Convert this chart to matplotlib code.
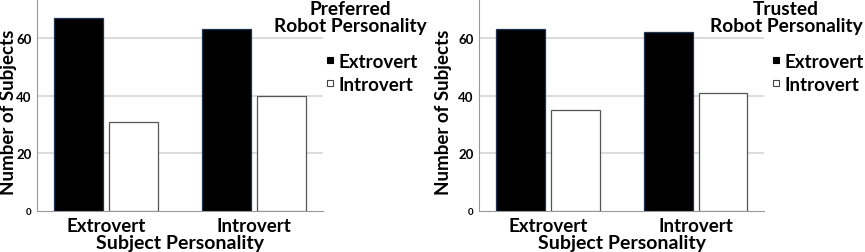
import matplotlib
matplotlib.use("Agg")
import matplotlib.pyplot as plt
from matplotlib.lines import Line2D
import numpy as np

# data
groups = ["Extrovert", "Introvert"]
pref_extro = [67, 63]
pref_intro = [31, 40]
trust_extro = [63, 62]
trust_intro = [35, 41]
titles = ["Preferred\nRobot Personality", "Trusted\nRobot Personality"]

plt.rcParams['font.family'] = ['Lato', 'DejaVu Sans']
plt.rcParams['font.weight'] = 'bold'

fig = plt.figure(figsize=(8.65, 2.53), dpi=100)
W, H = 865.0, 253.0

# (axes left, axes right, extro, intro, title, title centre x, legend left x, ylabel x)
panels = [
    (37, 323, pref_extro, pref_intro, titles[0], 350, 326, 9),
    (479, 764, trust_extro, trust_intro, titles[1], 786, 772, 444),
]

x = np.arange(len(groups))
bw = 0.33
off = 0.185

for left, right, ext, intr, title, tx, lx, ylx in panels:
    ax = fig.add_axes([left / W, 41 / H, (right - left) / W, 212 / H])
    ax.bar(x - off, ext, bw, color="black", edgecolor="#1c3550", linewidth=0.9, zorder=3)
    ax.bar(x + off, intr, bw, color="white", edgecolor="#555555", linewidth=0.9, zorder=3)
    ax.set_xlim(-0.465, 1.462)
    ax.set_ylim(0, 73.5)
    ax.set_yticks([0, 20, 40, 60])
    ax.set_yticklabels(["0", "20", "40", "60"], fontsize=9.5, fontweight="bold")
    ax.get_yticklabels()[0].set_fontsize(7)
    ax.set_xticks(x)
    ax.set_xticklabels(groups, fontsize=13.5, fontweight="bold")
    ax.tick_params(axis="y", length=0, pad=4)
    ax.tick_params(axis="x", length=0, pad=4)
    for yv in [20, 40, 60]:
        ax.axhline(yv, color="#d6d6d6", linewidth=1.2, zorder=1)
    for s in ["top", "right"]:
        ax.spines[s].set_visible(False)
    ax.spines["left"].set_color("#999999")
    ax.spines["bottom"].set_color("#999999")
    ax.set_xlabel("Subject Personality", fontsize=14, fontweight="bold", labelpad=0)
    ax.set_ylabel("Number of Subjects", fontsize=13.5, fontweight="bold")
    ax.yaxis.set_label_coords(ylx / W, 1 - 112 / H, transform=fig.transFigure)
    ax.yaxis.label.set_va("center")

    fig.text(tx / W, 1 - 1 / H, title, ha="center", va="top", fontsize=13.8,
             fontweight="bold", linespacing=1.02, zorder=6)
    handles = [
        Line2D([], [], linestyle="none", marker="s", markersize=5,
               markerfacecolor="black", markeredgecolor="black", markeredgewidth=0.8),
        Line2D([], [], linestyle="none", marker="s", markersize=5,
               markerfacecolor="white", markeredgecolor="#444444", markeredgewidth=0.8),
    ]
    leg = ax.legend(handles, ["Extrovert", "Introvert"], loc="upper left",
                    bbox_to_anchor=(lx / W, 1 - 54 / H),
                    bbox_transform=fig.transFigure, frameon=False, fontsize=13.5,
                    handlelength=0.4, handletextpad=0.25,
                    labelspacing=0.3, borderpad=0.0, borderaxespad=0.0)
    leg.set_zorder(5)

fig.savefig("out.png", dpi=100)
